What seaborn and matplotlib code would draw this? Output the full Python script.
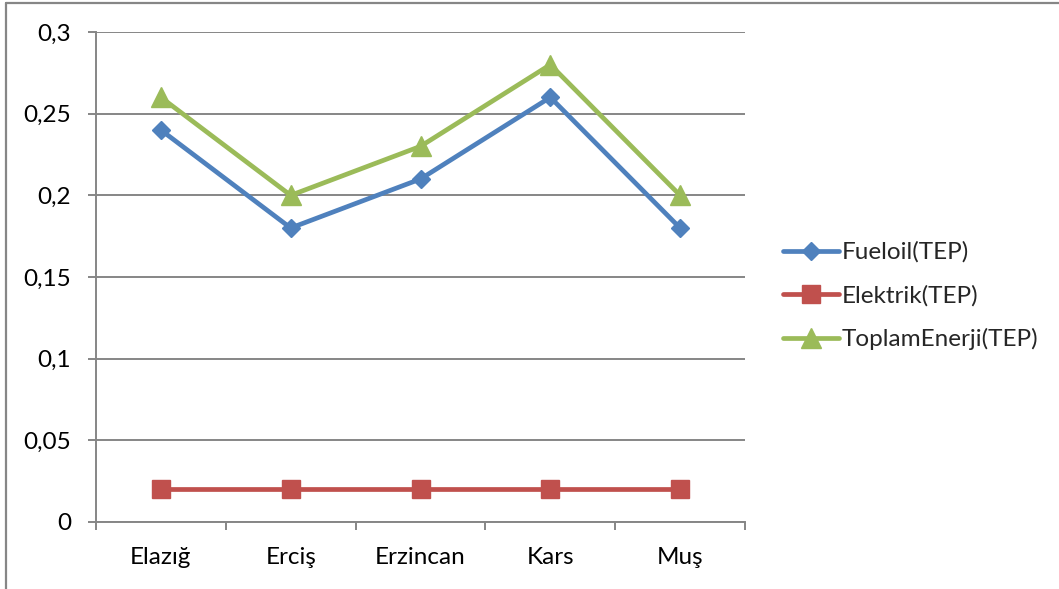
import matplotlib
matplotlib.use("Agg")
import matplotlib.pyplot as plt
from matplotlib.lines import Line2D
from matplotlib.ticker import FixedLocator, FuncFormatter
import seaborn as sns
import pandas as pd

cities = ["Elazığ", "Erciş", "Erzincan", "Kars", "Muş"]
fueloil = [0.24, 0.18, 0.21, 0.26, 0.18]
elektrik = [0.02, 0.02, 0.02, 0.02, 0.02]
toplam = [0.26, 0.20, 0.23, 0.28, 0.20]
series_names = ["Fueloil(TEP)", "Elektrik(TEP)", "ToplamEnerji(TEP)"]
y_ticks = [0, 0.05, 0.1, 0.15, 0.2, 0.25, 0.3]

sns.set_style("white")
plt.rcParams["font.family"] = ["Lato", "DejaVu Sans"]

FS = 17.5
GRID = "#868686"
styles = {
    "Fueloil(TEP)": dict(color="#4F81BD", marker="D", ms=9),
    "Elektrik(TEP)": dict(color="#C0504D", marker="s", ms=13),
    "ToplamEnerji(TEP)": dict(color="#9BBB59", marker="^", ms=14),
}

df = pd.DataFrame({
    "pos": list(range(len(cities))) * 3,
    "value": fueloil + elektrik + toplam,
    "series": sum([[n] * len(cities) for n in series_names], []),
})

fig = plt.figure(figsize=(10.59, 5.89), dpi=100)
ax = fig.add_axes([96 / 1059, 1 - 522 / 589, (745 - 96) / 1059, (522 - 32) / 589])

for name in series_names:
    st = styles[name]
    sns.lineplot(data=df[df["series"] == name], x="pos", y="value", ax=ax,
                 color=st["color"], marker=st["marker"], markersize=st["ms"],
                 markeredgecolor=st["color"], markeredgewidth=1,
                 linewidth=3.4, label=name, zorder=3)

ax.set_xlim(-0.5, len(cities) - 0.5)
ax.set_ylim(0, 0.3)
ax.set_xlabel("")
ax.set_ylabel("")

# horizontal gridlines only
ax.set_yticks(y_ticks)
ax.yaxis.set_major_formatter(FuncFormatter(lambda v, _: f"{v:g}".replace(".", ",")))
ax.grid(axis="y", color=GRID, linewidth=1.4)
ax.grid(axis="x", visible=False)

ax.set_xticks(range(len(cities)))
ax.set_xticklabels(cities)
ax.xaxis.set_minor_locator(FixedLocator([i - 0.5 for i in range(len(cities) + 1)]))
ax.tick_params(axis="x", which="major", length=0, pad=18, labelsize=FS, colors="black")
ax.tick_params(axis="x", which="minor", length=6, width=1.4, color=GRID, bottom=True)
ax.tick_params(axis="y", which="major", length=6, width=1.4, color=GRID, left=True,
               pad=12, labelsize=FS, labelcolor="black")

for side in ["top", "right"]:
    ax.spines[side].set_visible(False)
for side in ["left", "bottom"]:
    ax.spines[side].set_color(GRID)
    ax.spines[side].set_linewidth(1.4)

leg = ax.legend(loc="center left", bbox_to_anchor=(783 / 1059, 1 - 296 / 589),
                bbox_transform=fig.transFigure, frameon=False, fontsize=FS,
                handlelength=2.3, handletextpad=0.1, labelspacing=0.9,
                borderaxespad=0, borderpad=0)

# chart frame
fig.add_artist(Line2D([6 / 1059, 6 / 1059], [0, 1 - 2.5 / 589], transform=fig.transFigure,
                      color=GRID, linewidth=1.6))
fig.add_artist(Line2D([6 / 1059, 1], [1 - 2.5 / 589, 1 - 2.5 / 589], transform=fig.transFigure,
                      color=GRID, linewidth=1.6))

fig.savefig("out.png", dpi=100)
